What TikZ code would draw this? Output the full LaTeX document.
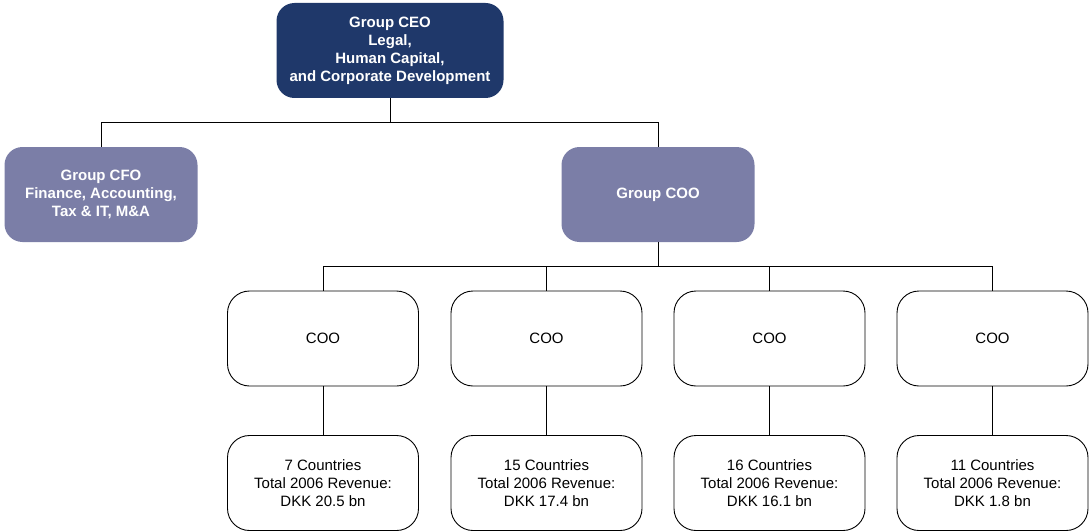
\documentclass[tikz,border=0pt]{standalone}
\usepackage{fontspec}
\setmainfont{Liberation Sans}
\definecolor{ceoblue}{RGB}{31,56,106}
\definecolor{lav}{RGB}{123,126,167}
\begin{document}
\begin{tikzpicture}[x=1pt,y=-1pt,
  topbox/.style={rectangle,rounded corners=18pt,fill=ceoblue,text=white,font=\fontsize{15}{18}\selectfont\bfseries,align=center,inner sep=0pt,minimum width=227pt,minimum height=95pt},
  midbox/.style={rectangle,rounded corners=18pt,fill=lav,text=white,font=\fontsize{15}{18}\selectfont\bfseries,align=center,inner sep=0pt,minimum width=193pt,minimum height=95pt},
  whitebox/.style={rectangle,rounded corners=22pt,draw=black,line width=0.9pt,fill=white,font=\fontsize{15}{18}\selectfont,align=center,inner sep=0pt,minimum width=191pt,minimum height=95pt},
  conn/.style={draw=black,line width=0.9pt}]
\useasboundingbox (0,0) rectangle (1091,532);
\node[topbox] (ceo) at (390,50.5) {Group CEO\\Legal,\\Human Capital,\\and Corporate Development};
\node[midbox] (cfo) at (101,194.5) {Group CFO\\Finance, Accounting,\\Tax \& IT, M\&A};
\node[midbox] (gcoo) at (658,194.5) {Group COO};
\node[whitebox] (c1) at (323,338.5) {COO};
\node[whitebox] (c2) at (546.5,338.5) {COO};
\node[whitebox] (c3) at (769.5,338.5) {COO};
\node[whitebox] (c4) at (992.5,338.5) {COO};
\node[whitebox] (r1) at (323,483) {7 Countries\\Total 2006 Revenue:\\DKK 20.5 bn};
\node[whitebox] (r2) at (546.5,483) {15 Countries\\Total 2006 Revenue:\\DKK 17.4 bn};
\node[whitebox] (r3) at (769.5,483) {16 Countries\\Total 2006 Revenue:\\DKK 16.1 bn};
\node[whitebox] (r4) at (992.5,483) {11 Countries\\Total 2006 Revenue:\\DKK 1.8 bn};
\coordinate (j1) at (390,122);
\coordinate (j2) at (658,266.5);
\draw[conn] (ceo.south) -- (j1);
\draw[conn] (j1) -| (cfo.north);
\draw[conn] (j1) -| (gcoo.north);
\draw[conn] (gcoo.south) -- (j2);
\draw[conn] (j2) -| (c1.north);
\draw[conn] (j2) -| (c2.north);
\draw[conn] (j2) -| (c3.north);
\draw[conn] (j2) -| (c4.north);
\draw[conn] (c1.south) -- (r1.north);
\draw[conn] (c2.south) -- (r2.north);
\draw[conn] (c3.south) -- (r3.north);
\draw[conn] (c4.south) -- (r4.north);
\end{tikzpicture}
\end{document}
